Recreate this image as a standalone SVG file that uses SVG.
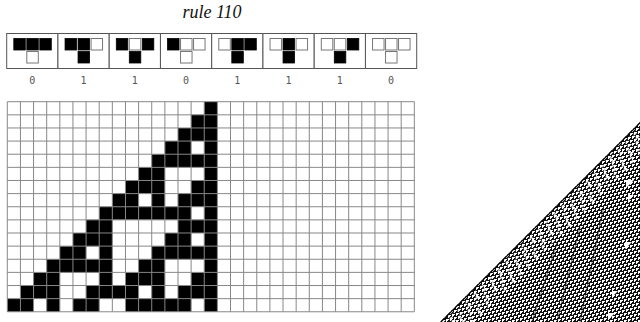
<svg xmlns="http://www.w3.org/2000/svg" width="640" height="322" viewBox="0 0 640 322">
<style>
.title{font-family:"Liberation Serif",serif;font-style:italic;font-size:18px;fill:#111}
.lbl{font-family:"DejaVu Sans Mono",monospace;font-size:10px;fill:#555;text-anchor:middle}
.box{fill:#fff;stroke:#555;stroke-width:1}
.on{fill:#000;stroke:#000;stroke-width:0.8}
.off{fill:#fff;stroke:#777;stroke-width:1}
.gl{stroke:#888;stroke-width:1;fill:none}
.hole{fill:#fff}
.streak{stroke:#111;stroke-width:1.5;fill:none;opacity:0.45}
</style>
<defs>
<pattern id="ether" width="14" height="7" patternUnits="userSpaceOnUse">
<rect width="14" height="7" fill="#fff"/>
<path fill="#111" d="M3 0h1v1h-1zM6 0h2v1h-2zM9 0h5v1h-5zM2 1h2v1h-2zM5 1h5v1h-5zM13 1h1v1h-1zM1 2h5v1h-5zM9 2h1v1h-1zM12 2h2v1h-2zM0 3h2v1h-2zM5 3h1v1h-1zM8 3h2v1h-2zM11 3h3v1h-3zM1 4h1v1h-1zM4 4h2v1h-2zM7 4h5v1h-5zM0 5h2v1h-2zM3 5h5v1h-5zM11 5h1v1h-1zM0 6h4v1h-4zM7 6h1v1h-1zM10 6h2v1h-2zM13 6h1v1h-1z"/>
</pattern>
<pattern id="band" width="10" height="8" patternUnits="userSpaceOnUse" patternTransform="skewX(-45)">
<path fill="#fff" d="M2 0h4v4zM7 5h3v3z"/>
</pattern>
<clipPath id="tri"><polygon points="640,122 640,322 440,322"/></clipPath>
</defs>

<text class="title" x="212" y="18" text-anchor="middle">rule 110</text>

<g id="rule-icons">
<g id="r111"><rect class="box" x="6.7" y="33.5" width="51.25" height="35"/>
<rect class="on" x="13.8" y="38.5" width="11.5" height="11.5"/><rect class="on" x="26.8" y="38.5" width="11.5" height="11.5"/><rect class="on" x="39.8" y="38.5" width="11.5" height="11.5"/><rect class="off" x="26.8" y="51.5" width="11.5" height="11.5"/>
<text class="lbl" x="32.3" y="84">0</text></g>
<g id="r110" transform="translate(51.25,0)"><rect class="box" x="6.7" y="33.5" width="51.25" height="35"/>
<rect class="on" x="13.8" y="38.5" width="11.5" height="11.5"/><rect class="on" x="26.8" y="38.5" width="11.5" height="11.5"/><rect class="off" x="39.8" y="38.5" width="11.5" height="11.5"/><rect class="on" x="26.8" y="51.5" width="11.5" height="11.5"/>
<text class="lbl" x="32.3" y="84">1</text></g>
<g id="r101" transform="translate(102.5,0)"><rect class="box" x="6.7" y="33.5" width="51.25" height="35"/>
<rect class="on" x="13.8" y="38.5" width="11.5" height="11.5"/><rect class="off" x="26.8" y="38.5" width="11.5" height="11.5"/><rect class="on" x="39.8" y="38.5" width="11.5" height="11.5"/><rect class="on" x="26.8" y="51.5" width="11.5" height="11.5"/>
<text class="lbl" x="32.3" y="84">1</text></g>
<g id="r100" transform="translate(153.75,0)"><rect class="box" x="6.7" y="33.5" width="51.25" height="35"/>
<rect class="on" x="13.8" y="38.5" width="11.5" height="11.5"/><rect class="off" x="26.8" y="38.5" width="11.5" height="11.5"/><rect class="off" x="39.8" y="38.5" width="11.5" height="11.5"/><rect class="off" x="26.8" y="51.5" width="11.5" height="11.5"/>
<text class="lbl" x="32.3" y="84">0</text></g>
<g id="r011" transform="translate(205,0)"><rect class="box" x="6.7" y="33.5" width="51.25" height="35"/>
<rect class="off" x="13.8" y="38.5" width="11.5" height="11.5"/><rect class="on" x="26.8" y="38.5" width="11.5" height="11.5"/><rect class="on" x="39.8" y="38.5" width="11.5" height="11.5"/><rect class="on" x="26.8" y="51.5" width="11.5" height="11.5"/>
<text class="lbl" x="32.3" y="84">1</text></g>
<g id="r010" transform="translate(256.25,0)"><rect class="box" x="6.7" y="33.5" width="51.25" height="35"/>
<rect class="off" x="13.8" y="38.5" width="11.5" height="11.5"/><rect class="on" x="26.8" y="38.5" width="11.5" height="11.5"/><rect class="off" x="39.8" y="38.5" width="11.5" height="11.5"/><rect class="on" x="26.8" y="51.5" width="11.5" height="11.5"/>
<text class="lbl" x="32.3" y="84">1</text></g>
<g id="r001" transform="translate(307.5,0)"><rect class="box" x="6.7" y="33.5" width="51.25" height="35"/>
<rect class="off" x="13.8" y="38.5" width="11.5" height="11.5"/><rect class="off" x="26.8" y="38.5" width="11.5" height="11.5"/><rect class="on" x="39.8" y="38.5" width="11.5" height="11.5"/><rect class="on" x="26.8" y="51.5" width="11.5" height="11.5"/>
<text class="lbl" x="32.3" y="84">1</text></g>
<g id="r000" transform="translate(358.75,0)"><rect class="box" x="6.7" y="33.5" width="51.25" height="35"/>
<rect class="off" x="13.8" y="38.5" width="11.5" height="11.5"/><rect class="off" x="26.8" y="38.5" width="11.5" height="11.5"/><rect class="off" x="39.8" y="38.5" width="11.5" height="11.5"/><rect class="off" x="26.8" y="51.5" width="11.5" height="11.5"/>
<text class="lbl" x="32.3" y="84">0</text></g>
</g>

<g id="grid" transform="translate(7.3,101.7) scale(13.13)">
<rect x="0" y="0" width="31" height="16" fill="#fff"/>
<path fill="#000" d="M15 0h1v1h-1zM14 1h2v1h-2zM13 2h3v1h-3zM12 3h2v1h-2zM15 3h1v1h-1zM11 4h5v1h-5zM10 5h2v1h-2zM15 5h1v1h-1zM9 6h3v1h-3zM14 6h2v1h-2zM8 7h2v1h-2zM11 7h1v1h-1zM13 7h3v1h-3zM7 8h7v1h-7zM15 8h1v1h-1zM6 9h2v1h-2zM13 9h3v1h-3zM5 10h3v1h-3zM12 10h2v1h-2zM15 10h1v1h-1zM4 11h2v1h-2zM7 11h1v1h-1zM11 11h5v1h-5zM3 12h5v1h-5zM10 12h2v1h-2zM15 12h1v1h-1zM2 13h2v1h-2zM7 13h1v1h-1zM9 13h3v1h-3zM14 13h2v1h-2zM1 14h3v1h-3zM6 14h4v1h-4zM11 14h1v1h-1zM13 14h3v1h-3zM0 15h2v1h-2zM3 15h1v1h-1zM5 15h2v1h-2zM9 15h5v1h-5zM15 15h1v1h-1z"/>
<path class="gl" vector-effect="non-scaling-stroke" d="M0 0V16M1 0V16M2 0V16M3 0V16M4 0V16M5 0V16M6 0V16M7 0V16M8 0V16M9 0V16M10 0V16M11 0V16M12 0V16M13 0V16M14 0V16M15 0V16M16 0V16M17 0V16M18 0V16M19 0V16M20 0V16M21 0V16M22 0V16M23 0V16M24 0V16M25 0V16M26 0V16M27 0V16M28 0V16M29 0V16M30 0V16M31 0V16M0 0H31M0 1H31M0 2H31M0 3H31M0 4H31M0 5H31M0 6H31M0 7H31M0 8H31M0 9H31M0 10H31M0 11H31M0 12H31M0 13H31M0 14H31M0 15H31M0 16H31"/>
</g>

<g id="large-pattern" clip-path="url(#tri)">
<rect x="440" y="122" width="200" height="200" fill="url(#ether)"/>
<polygon points="640,126 640,156 474,322 444,322" fill="url(#band)"/>
<path class="streak" d="M603 210L580 322M580 227L557 322M557 243L532 322"/>
<path class="hole" d="M626 180h8l-8 8zM628 195h6l-6 6zM625 242h7l-7 7zM612 291h6l-6 6zM608 313h7l-7 7z"/>
<path d="M640 122L440 322" stroke="#000" stroke-width="2.5" fill="none"/>
</g>
</svg>
